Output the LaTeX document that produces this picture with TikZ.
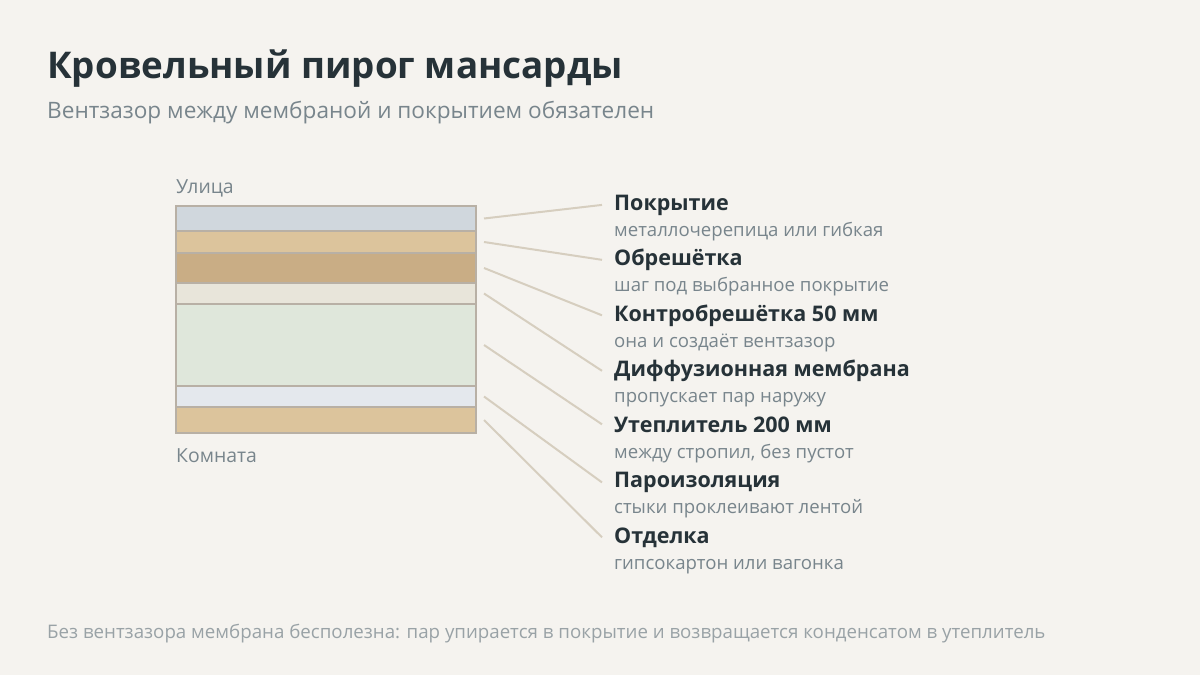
\documentclass[tikz,border=0pt]{standalone}
\usepackage{fontspec}
\setmainfont{Open Sans}
\usetikzlibrary{positioning}

\definecolor{bg}{HTML}{F5F3EF}
\definecolor{ink}{HTML}{263238}
\definecolor{muted}{HTML}{78858C}
\definecolor{faint}{HTML}{99A2A6}
\definecolor{edge}{HTML}{B8B0A5}
\definecolor{leader}{HTML}{D6CEBF}
\definecolor{roofing}{HTML}{D0D7DD}
\definecolor{batten}{HTML}{DCC49C}
\definecolor{counter}{HTML}{C9AD85}
\definecolor{membrane}{HTML}{E8E5DA}
\definecolor{wool}{HTML}{DFE7DB}
\definecolor{barrier}{HTML}{E4E8ED}
\definecolor{finish}{HTML}{DCC49C}

\begin{document}
\begin{tikzpicture}[
        x=1pt, y=-1pt,
        layerbox/.style={rectangle, draw=edge, line width=2pt, inner sep=0pt, minimum width=300pt},
        labeltitle/.style={anchor=base west, inner sep=0pt, text=ink, font=\fontsize{21.5}{25}\selectfont\bfseries},
        labelnote/.style={anchor=base west, inner sep=0pt, text=muted, font=\fontsize{18.6}{22}\selectfont},
        sidetag/.style={anchor=base west, inner sep=0pt, text=muted, font=\fontsize{19.4}{23}\selectfont},
        leaderline/.style={draw=leader, line width=2pt}
    ]
    \fill[bg] (0,0) rectangle (1200,675);
    \useasboundingbox (0,0) rectangle (1200,675);

    % Heading
    \node[anchor=base west, inner sep=0pt, text=ink, font=\fontsize{36.8}{42}\selectfont\bfseries] (head) at (47,78) {Кровельный пирог мансарды};
    \node[anchor=base west, inner sep=0pt, text=muted, font=\fontsize{22.6}{27}\selectfont] (sub) at (47,118) {Вентзазор между мембраной и покрытием обязателен};

    % Layers
    \node[layerbox, fill=roofing, minimum height=25pt] (L1) at (326,218.5) {};
    \node[layerbox, fill=batten, minimum height=22pt] (L2) at (326,242) {};
    \node[layerbox, fill=counter, minimum height=30pt] (L3) at (326,268) {};
    \node[layerbox, fill=membrane, minimum height=21pt] (L4) at (326,293.5) {};
    \node[layerbox, fill=wool, minimum height=82pt] (L5) at (326,345) {};
    \node[layerbox, fill=barrier, minimum height=21pt] (L6) at (326,396.5) {};
    \node[layerbox, fill=finish, minimum height=26pt] (L7) at (326,420) {};
    \node[sidetag] (street) at (176,193) {Улица};
    \node[sidetag] (room) at (176,462) {Комната};

    % Labels
    \node[labeltitle] (T1) at (614,210) {Покрытие};
    \node[labelnote] (N1) at (614,236) {металлочерепица или гибкая};
    \node[labeltitle] (T2) at (614,265.5) {Обрешётка};
    \node[labelnote] (N2) at (614,291.5) {шаг под выбранное покрытие};
    \node[labeltitle] (T3) at (614,321) {Контробрешётка 50 мм};
    \node[labelnote] (N3) at (614,347) {она и создаёт вентзазор};
    \node[labeltitle] (T4) at (614,376.5) {Диффузионная мембрана};
    \node[labelnote] (N4) at (614,402.5) {пропускает пар наружу};
    \node[labeltitle] (T5) at (614,432) {Утеплитель 200 мм};
    \node[labelnote] (N5) at (614,458) {между стропил, без пустот};
    \node[labeltitle] (T6) at (614,487.5) {Пароизоляция};
    \node[labelnote] (N6) at (614,513.5) {стыки проклеивают лентой};
    \node[labeltitle] (T7) at (614,543) {Отделка};
    \node[labelnote] (N7) at (614,569) {гипсокартон или вагонка};

    % Leaders
    \foreach \i in {1,...,7}
        \draw[leaderline] ([xshift=7pt]L\i.east) -- ([xshift=-12pt]T\i.west);

    % Footer
    \node[anchor=base west, inner sep=0pt, text=faint, font=\fontsize{18.7}{22}\selectfont] (foot) at (47,638) {Без вентзазора мембрана бесполезна: пар упирается в покрытие и возвращается конденсатом в утеплитель};
\end{tikzpicture}
\end{document}
